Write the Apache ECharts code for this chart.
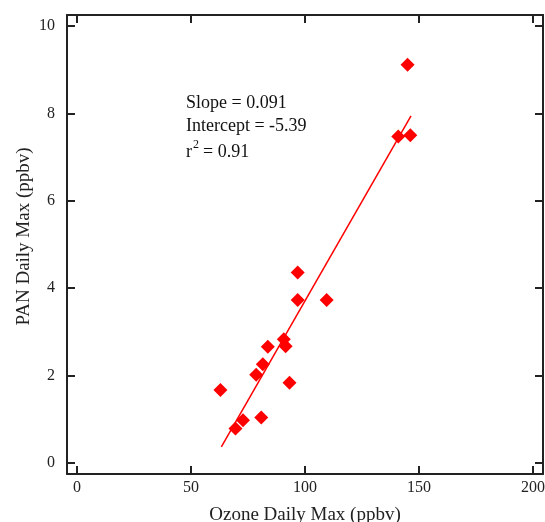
<!DOCTYPE html>
<html><head><meta charset="utf-8">
<script src="https://cdn.jsdelivr.net/npm/echarts@6/dist/echarts.min.js"></script>
<style>html,body{margin:0;padding:0;background:#fff}#c{width:545px;height:522px}</style>
</head><body><div id="c"></div>
<script>
// Data
const ozone = [145.0, 140.9, 146.2, 96.8, 96.8, 109.5, 90.7, 91.5, 83.7, 81.5, 78.6, 93.2, 62.9, 80.8, 72.8, 69.5];
const pan   = [9.11, 7.47, 7.50, 4.36, 3.73, 3.73, 2.83, 2.67, 2.66, 2.26, 2.02, 1.84, 1.67, 1.04, 0.98, 0.79];
const fitSlope = 0.091;
const fitIntercept = -5.39;
const fitXRange = [63.3, 146.5];
const xTicks = [0, 50, 100, 150, 200];
const yTicks = [0, 2, 4, 6, 8, 10];

const points = ozone.map((x, i) => [x, pan[i]]);
const fitLine = fitXRange.map(x => [x, fitSlope * x + fitIntercept]);

const font = 'Liberation Serif';
const axisColor = '#222';
const baseAxis = {
  type: 'value',
  axisLine: { show: true, onZero: false, lineStyle: { color: axisColor, width: 2 } },
  axisTick: { show: true, inside: true, length: 8, lineStyle: { color: axisColor, width: 2 } },
  splitLine: { show: false }
};
const txt = (text, left, top, size) => ({
  type: 'text', left: left, top: top,
  style: { text: text, fontFamily: font, fontSize: size, fill: '#111' }
});
const chart = echarts.init(document.getElementById('c'));
chart.setOption({
  animation: false,
  backgroundColor: '#fff',
  grid: { left: 67, right: 2, top: 15, bottom: 48, containLabel: false, outerBoundsMode: 'none' },
  xAxis: [
    Object.assign({}, baseAxis, {
      position: 'bottom', min: -4.4, max: 204.4,
      axisTick: Object.assign({}, baseAxis.axisTick, { customValues: xTicks }),
      axisLabel: { customValues: xTicks, margin: 6, fontFamily: font, fontSize: 16, color: axisColor },
      name: 'Ozone Daily Max (ppbv)', nameLocation: 'middle', nameGap: 32, nameMoveOverlap: false,
      nameTextStyle: { fontFamily: font, fontSize: 19, color: axisColor }
    }),
    Object.assign({}, baseAxis, {
      position: 'top', min: -4.4, max: 204.4,
      axisTick: Object.assign({}, baseAxis.axisTick, { customValues: xTicks }),
      axisLabel: { show: false }
    })
  ],
  yAxis: [
    Object.assign({}, baseAxis, {
      position: 'left', min: -0.25, max: 10.25,
      axisTick: Object.assign({}, baseAxis.axisTick, { customValues: yTicks }),
      axisLabel: { customValues: yTicks, margin: 12, fontFamily: font, fontSize: 16, color: axisColor },
      name: 'PAN Daily Max (ppbv)', nameLocation: 'middle', nameGap: 33, nameMoveOverlap: false,
      nameTextStyle: { fontFamily: font, fontSize: 19, color: axisColor, padding: [0, 0, 0, 16] }
    }),
    Object.assign({}, baseAxis, {
      position: 'right', min: -0.25, max: 10.25,
      axisTick: Object.assign({}, baseAxis.axisTick, { customValues: yTicks }),
      axisLabel: { show: false }
    })
  ],
  series: [
    {
      type: 'line', data: fitLine, xAxisIndex: 0, yAxisIndex: 0,
      symbol: 'none', lineStyle: { color: '#ff0000', width: 1.5 }, z: 2
    },
    {
      type: 'scatter', data: points, xAxisIndex: 0, yAxisIndex: 0,
      symbol: 'diamond', symbolSize: [14, 14],
      itemStyle: { color: '#ff0000', opacity: 1 }, z: 3
    }
  ],
  graphic: [
    txt('Slope = 0.091', 186, 94, 18),
    txt('Intercept = -5.39', 186, 117, 18),
    txt('r', 186, 143, 18),
    txt('2', 193, 139, 12),
    txt('= 0.91', 203, 143, 18)
  ]
});
</script></body></html>
